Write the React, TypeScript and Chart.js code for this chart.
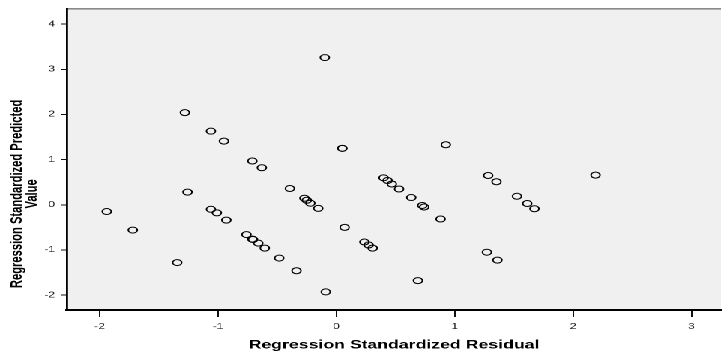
import React, { useEffect, useRef } from "react";
import { Chart, registerables } from "chart.js";

Chart.register(...registerables);

// Regression Standardized Residual (x) and Regression Standardized Predicted Value (y)
const residuals = [
  -0.098, 0.05, 0.05, 0.925, -1.28, -1.06, -0.95, -0.71, -0.63, -1.258,
  -1.94, -1.72, -1.345, -1.06, -1.01, -0.93, -0.76, -0.71, -0.705, -0.66,
  -0.605, -0.483, -0.337, -0.09, 0.689, -0.393, -0.27, -0.25, -0.22, -0.153,
  0.07, 0.237, 0.273, 0.307, 0.399, 0.433, 0.469, 0.53, 0.633, 0.726,
  0.742, 0.881, 1.283, 1.353, 1.526, 1.613, 1.674, 1.272, 1.361, 2.19,
];
const predicted = [
  3.26, 1.25, 1.25, 1.33, 2.04, 1.63, 1.41, 0.97, 0.82, 0.28,
  -0.15, -0.56, -1.28, -0.1, -0.18, -0.34, -0.66, -0.76, -0.77, -0.85,
  -0.96, -1.18, -1.46, -1.93, -1.68, 0.36, 0.145, 0.1, 0.035, -0.08,
  -0.5, -0.825, -0.89, -0.96, 0.597, 0.538, 0.46, 0.35, 0.16, -0.015,
  -0.05, -0.315, 0.648, 0.51, 0.188, 0.028, -0.088, -1.05, -1.225, 0.656,
];
const xTickValues = [-2, -1, 0, 1, 2, 3];
const yTickValues = [-2, -1, 0, 1, 2, 3, 4];
const xTitle = "Regression Standardized Residual";
const yTitleLines = ["Regression Standardized Predicted", "Value"];

const CANVAS_W = 485;
const CANVAS_H = 359;
const SX = 727 / CANVAS_W;
const FAMILY = '"Liberation Sans", Arial, Helvetica, sans-serif';

const plotBgPlugin = {
  id: "plotBg",
  beforeDraw(chart: any) {
    const { ctx, chartArea: a } = chart;
    ctx.save();
    ctx.fillStyle = "#f0f0f0";
    ctx.fillRect(a.left, a.top, a.right - a.left, a.bottom - a.top);
    ctx.strokeStyle = "#8a8a8a";
    ctx.lineWidth = 1.6;
    ctx.beginPath();
    ctx.moveTo(a.left, a.top);
    ctx.lineTo(a.right, a.top);
    ctx.stroke();
    ctx.restore();
  },
};

const yTitlePlugin = {
  id: "yTitleLines",
  afterDraw(chart: any) {
    const { ctx, chartArea: a } = chart;
    ctx.save();
    ctx.font = `bold 11.2px ${FAMILY}`;
    ctx.fillStyle = "#000";
    ctx.textAlign = "center";
    ctx.textBaseline = "middle";
    const cy = (a.top + a.bottom) / 2 + 34.5;
    yTitleLines.forEach((t, i) => {
      ctx.save();
      ctx.translate(11.2 + i * 10.2, cy);
      ctx.rotate(-Math.PI / 2);
      ctx.fillText(t, 0, 0);
      ctx.restore();
    });
    ctx.restore();
  },
};

export default function App() {
  const ref = useRef<HTMLCanvasElement | null>(null);

  useEffect(() => {
    if (!ref.current) return;
    Chart.defaults.font.family = FAMILY;
    const chart = new Chart(ref.current, {
      type: "scatter",
      data: {
        datasets: [
          {
            data: residuals.map((x, i) => ({ x, y: predicted[i] })),
            pointStyle: "circle",
            pointRadius: 3,
            pointHoverRadius: 3,
            pointBorderWidth: 1,
            pointBorderColor: "#000",
            pointBackgroundColor: "rgba(0,0,0,0)",
          },
        ],
      },
      options: {
        animation: false,
        responsive: false,
        devicePixelRatio: 2,
        events: [],
        layout: { padding: { top: 5, left: 0, right: 0, bottom: 0 } },
        plugins: {
          legend: { display: false },
          tooltip: { enabled: false },
        },
        scales: {
          x: {
            type: "linear",
            min: -2.276,
            max: 3.25,
            afterBuildTicks: (s: any) => {
              s.ticks = xTickValues.map((v) => ({ value: v }));
            },
            afterFit: (s: any) => {
              s.height = 49;
            },
            ticks: {
              font: { size: 8 },
              color: "#222",
              padding: 5,
              maxRotation: 0,
              autoSkip: false,
            },
            grid: {
              drawOnChartArea: false,
              drawTicks: true,
              tickLength: 7,
              color: "#111",
              lineWidth: 1,
            },
            border: { display: true, color: "#000", width: 2 },
            title: {
              display: true,
              text: xTitle,
              color: "#000",
              font: { size: 11.8, weight: "bold" },
              padding: { top: 0, bottom: 6.9 },
            },
          },
          y: {
            type: "linear",
            min: -2.33,
            max: 4.34,
            afterBuildTicks: (s: any) => {
              s.ticks = yTickValues.map((v) => ({ value: v }));
            },
            afterFit: (s: any) => {
              s.width = 67 / SX;
            },
            ticks: {
              font: { size: 8 },
              color: "#222",
              padding: 4,
              autoSkip: false,
            },
            grid: {
              drawOnChartArea: false,
              drawTicks: true,
              tickLength: 4,
              color: "#111",
              lineWidth: 1,
            },
            border: { display: true, color: "#000", width: 1.4 },
            title: { display: false },
          },
        },
      },
      plugins: [plotBgPlugin, yTitlePlugin],
    } as any);
    return () => chart.destroy();
  }, []);

  return (
    <div
      style={{
        position: "fixed",
        left: 0,
        top: 0,
        width: CANVAS_W,
        height: CANVAS_H,
        transform: `scale(${SX}, 1)`,
        transformOrigin: "0 0",
        background: "#fff",
      }}
    >
      <canvas ref={ref} width={CANVAS_W} height={CANVAS_H} />
    </div>
  );
}
